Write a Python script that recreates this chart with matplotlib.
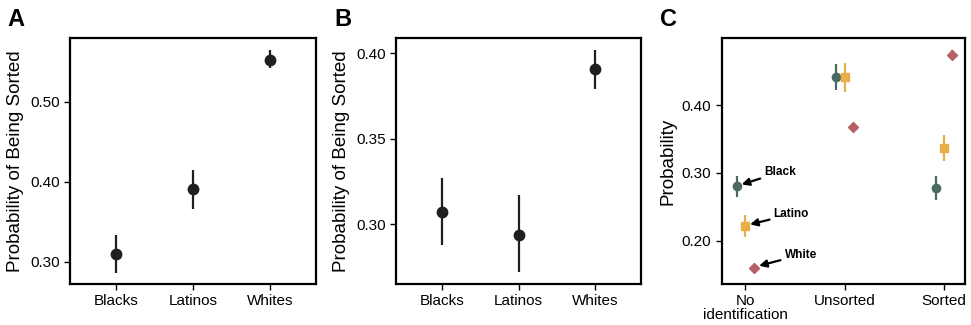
#! /usr/bin/env python

import numpy as np
import matplotlib
matplotlib.use("Agg")
import matplotlib.pyplot as plt

plt.rcParams['font.family'] = ['Liberation Sans', 'DejaVu Sans']

# panel A and B: probability of being sorted by group
groups = ["Blacks", "Latinos", "Whites"]
a_est = [0.310, 0.391, 0.553]
a_lo = [0.286, 0.366, 0.542]
a_hi = [0.333, 0.415, 0.565]

b_est = [0.307, 0.294, 0.391]
b_lo = [0.288, 0.272, 0.379]
b_hi = [0.327, 0.317, 0.402]

# panel C: probability by identification status
stages = ["No\nidentification", "Unsorted", "Sorted"]
races = ["Black", "Latino", "White"]
c_est = {"Black": [0.281, 0.442, 0.277],
         "Latino": [0.222, 0.442, 0.336],
         "White": [0.159, 0.367, 0.474]}
c_lo = {"Black": [0.264, 0.423, 0.260],
        "Latino": [0.206, 0.420, 0.317],
        "White": [0.156, 0.362, 0.467]}
c_hi = {"Black": [0.296, 0.460, 0.296],
        "Latino": [0.238, 0.462, 0.356],
        "White": [0.162, 0.372, 0.482]}
colors = {"Black": "#4b6b62", "Latino": "#e8ae47", "White": "#b86068"}
markers = {"Black": "o", "Latino": "s", "White": "D"}
msizes = {"Black": 6, "Latino": 5.5, "White": 5}
dodge = {"Black": -0.082, "Latino": 0.0, "White": 0.082}


def style_axes(ax):
    for s in ax.spines.values():
        s.set_linewidth(1.6)
    ax.tick_params(direction='out', length=4, width=1, labelsize=11, colors='black')


def point_panel(ax, est, lo, hi, ticks, ylim):
    x = np.arange(1, len(groups) + 1)
    est = np.array(est)
    err = [est - np.array(lo), np.array(hi) - est]
    ax.errorbar(x, est, yerr=err, fmt='o', color='#1f1f1f', ms=7.5,
                elinewidth=1.6, capsize=0)
    ax.set_xlim(0.4, 3.6)
    ax.set_ylim(*ylim)
    ax.set_xticks(x)
    ax.set_xticklabels(groups)
    ax.set_yticks(ticks)
    ax.set_yticklabels(["%.2f" % t for t in ticks])
    ax.set_ylabel("Probability of Being Sorted", fontsize=13.5, labelpad=4)
    style_axes(ax)


fig = plt.figure(figsize=(9.71, 3.25), dpi=100)
axA = fig.add_axes([0.0721, 0.126, 0.2533, 0.757])
axB = fig.add_axes([0.4078, 0.126, 0.2524, 0.757])
axC = fig.add_axes([0.7432, 0.126, 0.2506, 0.757])

point_panel(axA, a_est, a_lo, a_hi, [0.30, 0.40, 0.50], (0.272, 0.580))
point_panel(axB, b_est, b_lo, b_hi, [0.30, 0.35, 0.40], (0.265, 0.409))

xs = np.arange(1, len(stages) + 1)
for r in races:
    e = np.array(c_est[r])
    err = [e - np.array(c_lo[r]), np.array(c_hi[r]) - e]
    axC.errorbar(xs + dodge[r], e, yerr=err, fmt=markers[r], color=colors[r],
                 ms=msizes[r], elinewidth=1.6, capsize=0)
axC.set_xlim(0.76, 3.215)
axC.set_ylim(0.136, 0.499)
axC.set_xticks(xs)
axC.set_xticklabels(stages, linespacing=1.0)
axC.set_yticks([0.20, 0.30, 0.40])
axC.set_yticklabels(["0.20", "0.30", "0.40"])
axC.set_ylabel("Probability", fontsize=13.5, labelpad=4)
style_axes(axC)

arrow = dict(arrowstyle='-|>', color='black', lw=1.6, mutation_scale=11, shrinkA=1, shrinkB=0)
axC.annotate("Black", xy=(0.962, 0.283), xytext=(1.19, 0.301), fontsize=8.5,
             fontweight='bold', ha='left', va='center', arrowprops=arrow)
axC.annotate("Latino", xy=(1.047, 0.224), xytext=(1.285, 0.239), fontsize=8.5,
             fontweight='bold', ha='left', va='center', arrowprops=arrow)
axC.annotate("White", xy=(1.138, 0.163), xytext=(1.395, 0.179), fontsize=8.5,
             fontweight='bold', ha='left', va='center', arrowprops=arrow)

# panel letters
fig.text(0.008, 0.92, "A", fontsize=17, fontweight='bold')
fig.text(0.344, 0.92, "B", fontsize=17, fontweight='bold')
fig.text(0.680, 0.92, "C", fontsize=17, fontweight='bold')

fig.savefig("out.png", dpi=100)
